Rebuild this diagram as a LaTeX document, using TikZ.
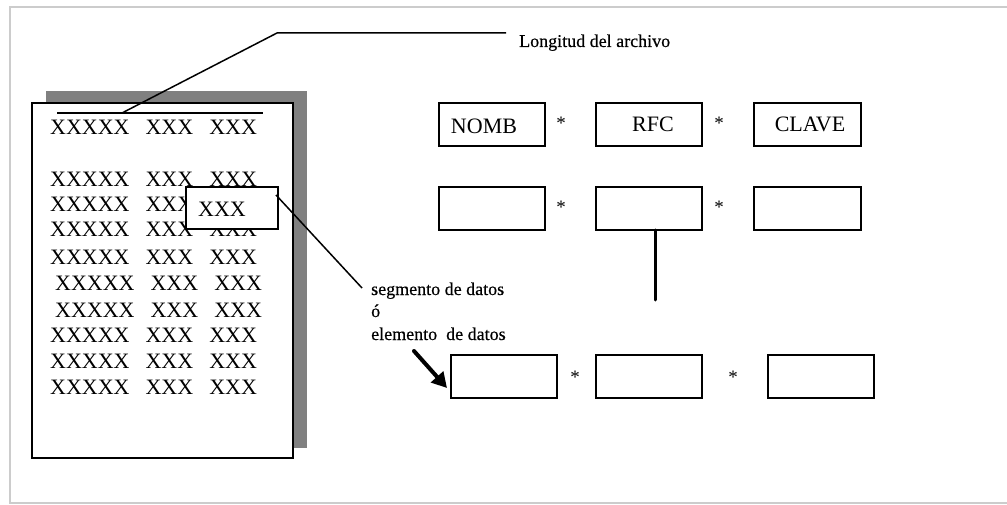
\documentclass[tikz,border=0pt]{standalone}
\usepackage{fontspec}
\setmainfont{Liberation Serif}
\usetikzlibrary{arrows.meta}
\newcommand\xxrow{XXXXX\hspace{16pt}XXX\hspace{16pt}XXX}
\begin{document}
\begin{tikzpicture}[x=1pt,y=-1pt,
  fld/.style={draw, line width=1.8pt, minimum width=106pt, minimum height=43pt, inner sep=0pt},
  big/.style={font=\fontsize{22}{26}\selectfont, inner sep=0pt},
  lbl/.style={font=\fontsize{18}{22}\selectfont\addfontfeature{FakeBold=0.4}, inner sep=0pt, anchor=base west},
  star/.style={font=\fontsize{19}{22}\selectfont, inner sep=0pt, anchor=base},
  lead/.style={line width=1.5pt}]
\useasboundingbox (0,0) rectangle (1007,505);

% outer frame
\draw[line width=2pt, color=black!20] (1010,7) -- (9.5,7) -- (9.5,503) -- (1010,503);

% file sheet with its shadow
\fill[black!50] (46,91) rectangle (307,448);
\node[draw, fill=white, line width=2pt, minimum width=261pt, minimum height=355pt, inner sep=0pt] (sheet) at (162.5,280.5) {};

% records
\node[big, anchor=west] (r0) at (50,127) {\xxrow};
\foreach \y [count=\i] in {179,204,229,257}
  \node[big, anchor=west] (r\i) at (50,\y) {\xxrow};
\foreach \y [count=\i from 5] in {283,310}
  \node[big, anchor=west] (r\i) at (55,\y) {\xxrow};
\foreach \y [count=\i from 7] in {335,361,387}
  \node[big, anchor=west] (r\i) at (50,\y) {\xxrow};

% length mark over the first record
\coordinate (lenL) at (57,113);
\coordinate (lenR) at (263,113);
\coordinate (lenP) at (122,113);
\draw[lead] (lenL) -- (lenR);

% highlighted data element
\node[draw, fill=white, line width=1.8pt, minimum width=92pt, minimum height=42pt, inner sep=0pt] (elem) at (232,208) {};
\node[big] (elemt) at (222,209) {XXX};

% labels
\node[lbl] (lon) at (519,47) {Longitud del archivo};
\coordinate (bend) at (277,33);
\coordinate (lonE) at (506,33);
\draw[lead] (lenP) -- (bend) -- (lonE);

\node[lbl] (seg1) at (371,295) {segmento de datos};
\node[lbl] (seg2) at (371,317) {ó};
\node[lbl] (seg3) at (371,340) {elemento\ \ de datos};
\coordinate (elemP) at (276,195);
\coordinate (segP) at (362,288);
\draw[lead] (elemP) -- (segP);

% field boxes
\node[fld] (a1) at (492,124.5) {};
\node[fld] (a2) at (649,124.5) {};
\node[fld, minimum width=107pt] (a3) at (807.5,124.5) {};
\node[big] (ta1) at (484,126) {NOMB};
\node[big] (ta2) at (653,124) {RFC};
\node[big] (ta3) at (810,124) {CLAVE};
\node[star] (sa1) at (561,130) {*};
\node[star] (sa2) at (719,130) {*};

\node[fld] (b1) at (492,208.5) {};
\node[fld] (b2) at (649,208.5) {};
\node[fld, minimum width=107pt] (b3) at (807.5,208.5) {};
\node[star] (sb1) at (561,214) {*};
\node[star] (sb2) at (719,214) {*};

\node[fld] (c1) at (504,376.5) {};
\node[fld] (c2) at (649,376.5) {};
\node[fld] (c3) at (821,376.5) {};
\node[star] (sc1) at (575,383) {*};
\node[star] (sc2) at (733,383) {*};

% continuation line between record rows
\coordinate (vTop) at (655,230);
\coordinate (vEnd) at (655,300);
\draw[line width=3pt, line cap=round] (vTop) -- (vEnd);

% arrow to the first data element
\coordinate (arS) at (414,351);
\coordinate (arT) at (447,388);
\draw[line width=4pt, line cap=round, -{Triangle[length=15pt,width=16pt]}] (arS) -- (arT);
\end{tikzpicture}
\end{document}
